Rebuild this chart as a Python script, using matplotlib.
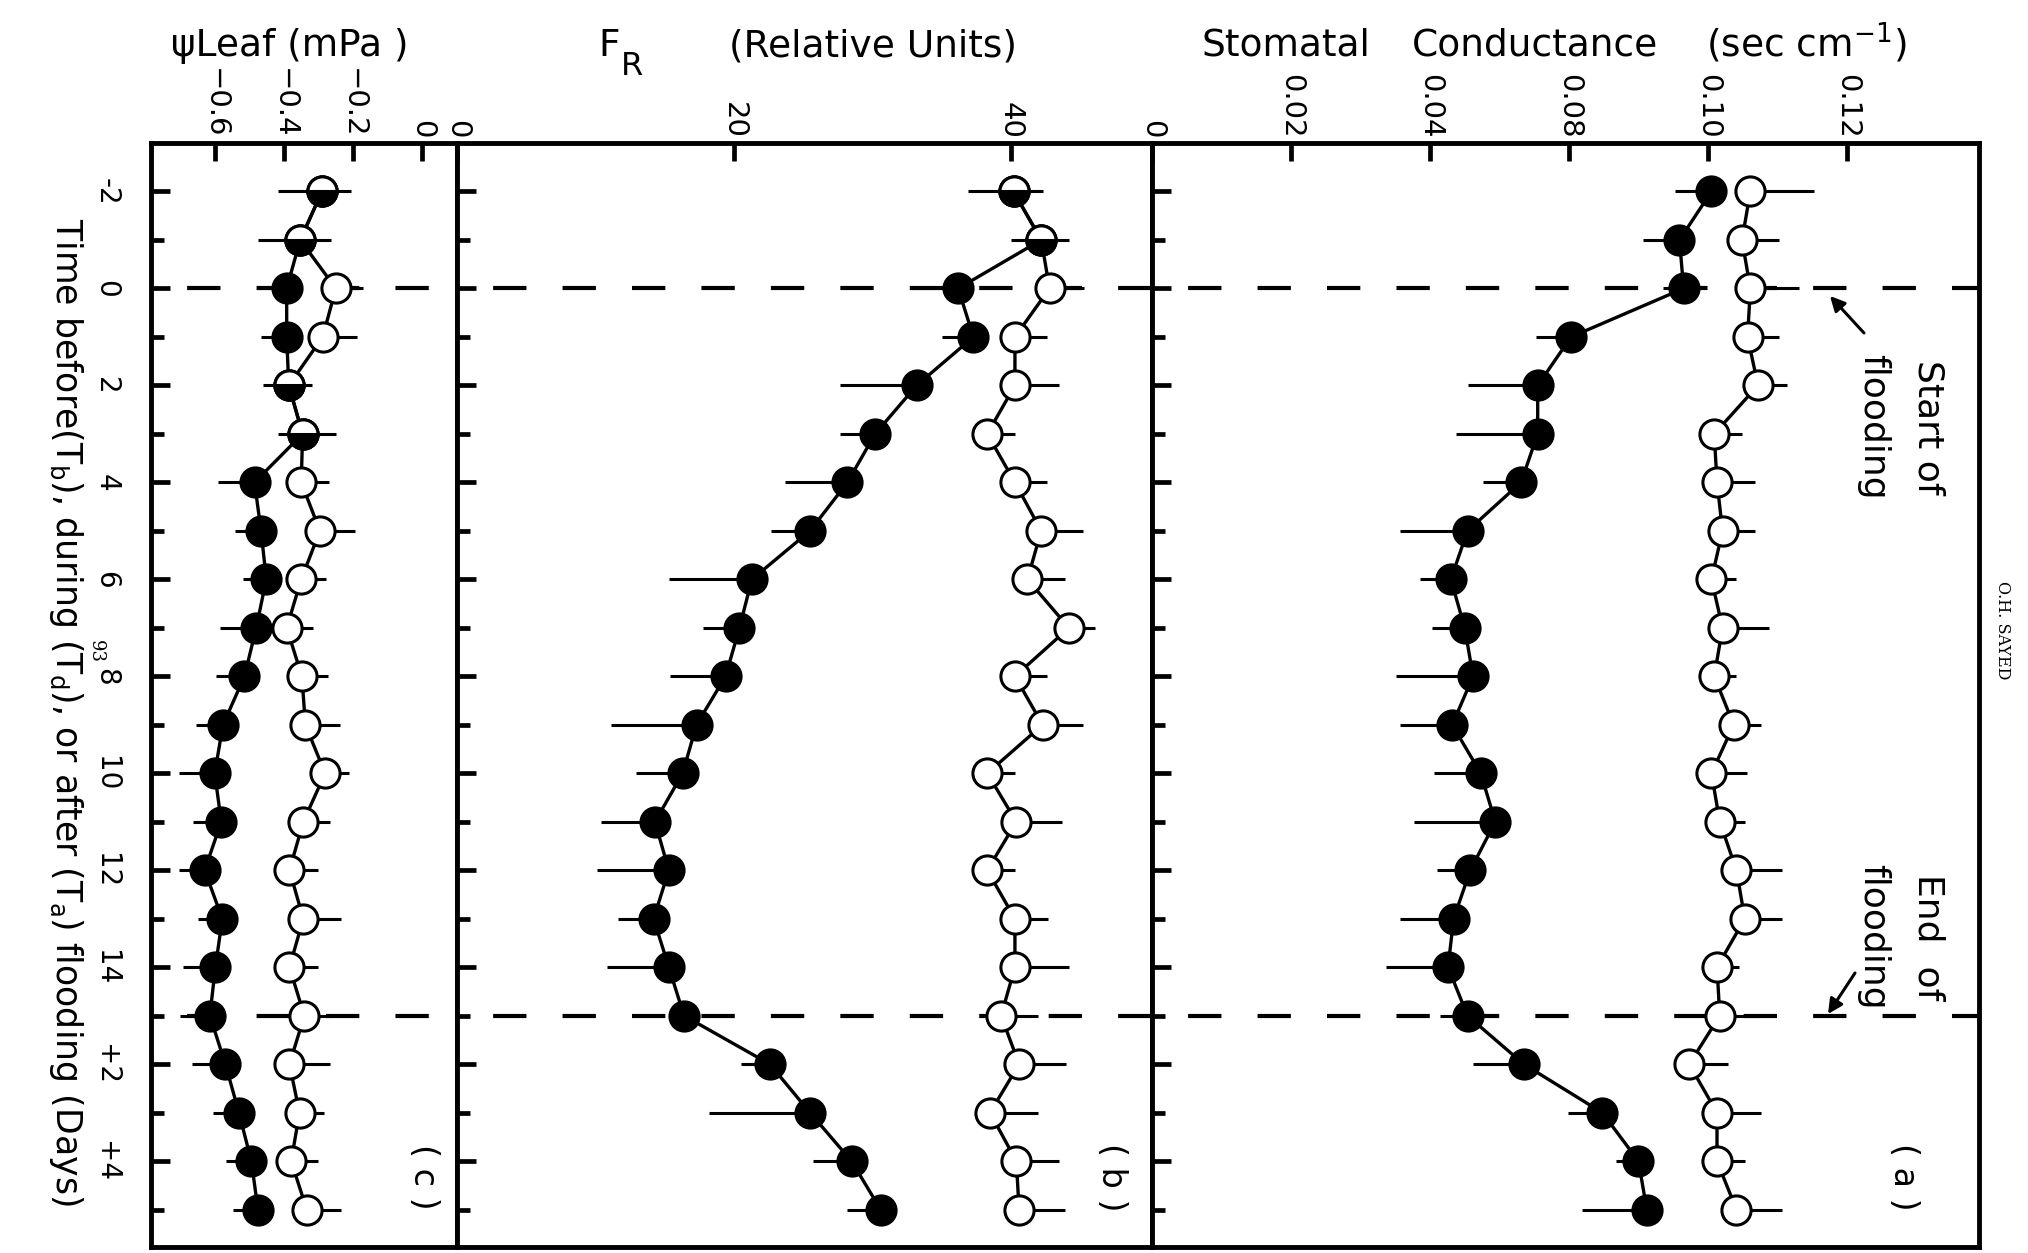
import matplotlib
matplotlib.use("Agg")
import matplotlib.pyplot as plt
import numpy as np

plt.rcParams["font.family"] = ["DejaVu Sans"]
plt.rcParams["mathtext.fontset"] = "dejavusans"
plt.rcParams["lines.scale_dashes"] = False

W, H = 2028, 1253

# ---------------- data ----------------
days = [-2, -1, 0, 1, 2, 3, 4, 5, 6, 7, 8, 9, 10, 11, 12, 13, 14, 15, 16, 17, 18, 19]
day_major = [-2, 0, 2, 4, 6, 8, 10, 12, 14, 16, 18]
day_minor = [-1, 1, 3, 5, 7, 9, 11, 13, 15, 17, 19]
day_labels = ["-2", "0", "2", "4", "6", "8", "10", "12", "14", "+2", "+4"]
flood_start = 0
flood_end = 15

# (a) stomatal conductance
cond_flooded = [0.0805, 0.0759, 0.0765, 0.0603, 0.0555, 0.0555, 0.0531, 0.0454, 0.0430, 0.0450, 0.0462,
                0.0432, 0.0473, 0.0494, 0.0458, 0.0434, 0.0426, 0.0454, 0.0535, 0.0648, 0.0700, 0.0712]
cond_flooded_err = [0.0053, 0.0053, 0.0030, 0.0050, 0.0101, 0.0117, 0.0054, 0.0097, 0.0045, 0.0047, 0.0111,
                    0.0075, 0.0067, 0.0117, 0.0048, 0.0077, 0.0089, 0.0040, 0.0073, 0.0049, 0.0032, 0.0093]
cond_control = [0.0861, 0.0849, 0.0861, 0.0857, 0.0872, 0.0809, 0.0813, 0.0821, 0.0805, 0.0821, 0.0809,
                0.0837, 0.0805, 0.0817, 0.0841, 0.0853, 0.0813, 0.0817, 0.0773, 0.0813, 0.0813, 0.0841]
cond_control_err = [0.0091, 0.0053, 0.0070, 0.0045, 0.0042, 0.0040, 0.0054, 0.0046, 0.0036, 0.0067, 0.0032,
                    0.0040, 0.0051, 0.0036, 0.0065, 0.0053, 0.0032, 0.0060, 0.0056, 0.0064, 0.0040, 0.0065]
cond_ticks = [0, 0.02, 0.04, 0.06, 0.08, 0.10]
cond_ticklabels = ["0", "0.02", "0.04", "0.08", "0.10", "0.12"]

# (b) F_R relative units
fr_flooded = [40.2, 42.2, 36.2, 37.3, 33.2, 30.2, 28.2, 25.5, 21.3, 20.4, 19.4,
              17.3, 16.3, 14.3, 15.3, 14.2, 15.3, 16.4, 22.6, 25.5, 28.5, 30.6]
fr_flooded_err = [3.3, 2.2, 3.4, 2.3, 5.5, 2.5, 4.5, 2.8, 6.0, 2.6, 4.0,
                  6.2, 3.4, 3.9, 5.2, 2.6, 4.5, 0.0, 2.1, 7.3, 2.8, 2.4]
fr_control = [40.2, 42.2, 42.8, 40.3, 40.3, 38.3, 40.3, 42.2, 41.2, 44.2, 40.3,
              42.3, 38.3, 40.4, 38.3, 40.3, 40.3, 39.3, 40.6, 38.5, 40.4, 40.6]
fr_control_err = [2.1, 2.0, 2.5, 2.3, 3.2, 2.0, 2.3, 3.0, 2.7, 1.9, 2.3,
                  2.9, 2.0, 3.3, 2.0, 2.4, 3.9, 2.7, 3.4, 3.5, 3.1, 3.3]
fr_ticks = [0, 20, 40]
fr_ticklabels = ["0", "20", "40"]

# (c) leaf water potential
psi_flooded = [-0.290, -0.353, -0.392, -0.392, -0.386, -0.346, -0.485, -0.466, -0.451, -0.480, -0.514,
               -0.576, -0.600, -0.581, -0.629, -0.578, -0.598, -0.614, -0.569, -0.530, -0.494, -0.475]
psi_flooded_err = [0.128, 0.122, 0.086, 0.074, 0.075, 0.072, 0.106, 0.074, 0.067, 0.106, 0.082,
                   0.077, 0.103, 0.081, 0.074, 0.070, 0.093, 0.086, 0.098, 0.075, 0.072, 0.072]
psi_control = [-0.290, -0.353, -0.250, -0.288, -0.386, -0.346, -0.350, -0.296, -0.350, -0.392, -0.348,
               -0.338, -0.281, -0.344, -0.384, -0.344, -0.384, -0.341, -0.384, -0.355, -0.379, -0.334]
psi_control_err = [0.084, 0.089, 0.079, 0.098, 0.067, 0.096, 0.079, 0.102, 0.072, 0.077, 0.074,
                   0.100, 0.068, 0.077, 0.082, 0.108, 0.082, 0.077, 0.117, 0.072, 0.077, 0.099]
psi_ticks = [-0.6, -0.4, -0.2, 0]
psi_ticklabels = ["\u22120.6", "\u22120.4", "\u22120.2", "0"]

# ---------------- figure ----------------
fig = plt.figure(figsize=(W / 100, H / 100), dpi=100)
TOP, BOT = 143, 1247


def rect(x0, x1):
    return [x0 / W, 1 - BOT / H, (x1 - x0) / W, (BOT - TOP) / H]


ax_c = fig.add_axes(rect(151, 457))
ax_b = fig.add_axes(rect(457, 1152))
ax_a = fig.add_axes(rect(1152, 1979))

MS = 21


def panel(ax, flooded, flooded_err, control, control_err, xlim, xticks, xticklabels, show_days):
    d = np.array(days, float)
    f = np.array(flooded, float)
    c = np.array(control, float)
    fe = np.array(flooded_err, float)
    ce = np.array(control_err, float)
    for t in (flood_start, flood_end):
        ax.axhline(t, color="black", lw=3, ls=(24, (24, 26)), zorder=1)
    ax.errorbar(c, d, xerr=[np.zeros_like(c), ce], fmt="o-", color="black", mfc="white", mec="black",
                ms=MS, mew=2.2, lw=2.4, elinewidth=2.2, capsize=0, zorder=3)
    ax.errorbar(f, d, xerr=[fe, np.zeros_like(f)], fmt="o-", color="black", mfc="black", mec="black",
                ms=MS, mew=2.2, lw=2.4, elinewidth=2.2, capsize=0, zorder=4)
    same = np.isclose(f, c)
    ax.plot(f[same], d[same], ls="none", marker="o", ms=MS, mec="black", mew=2.2, mfc="black",
            markerfacecoloralt="white", fillstyle="bottom", zorder=5)
    ax.set_xlim(*xlim)
    ax.set_ylim(19.77, -3.0)
    ax.xaxis.tick_top()
    ax.set_xticks(xticks)
    ax.set_xticklabels(xticklabels, rotation=-90, fontsize=21)
    ax.tick_params(axis="x", direction="in", length=13, width=3.4, pad=3, top=True, bottom=False,
                   labeltop=True, labelbottom=False)
    ax.set_yticks(day_major)
    ax.set_yticks(day_minor, minor=True)
    ax.tick_params(axis="y", which="major", direction="in", length=14, width=3.4, left=True, right=False)
    ax.tick_params(axis="y", which="minor", direction="in", length=9, width=3.4, left=True, right=False)
    if show_days:
        ax.set_yticklabels(day_labels, rotation=-90, fontsize=20, va="center")
        ax.tick_params(axis="y", which="major", pad=22)
    else:
        ax.set_yticklabels([])
    for s in ax.spines.values():
        s.set_linewidth(3.5)


panel(ax_a, cond_flooded, cond_flooded_err, cond_control, cond_control_err,
      (0, 0.119), cond_ticks, cond_ticklabels, False)
panel(ax_b, fr_flooded, fr_flooded_err, fr_control, fr_control_err,
      (0, 50.2), fr_ticks, fr_ticklabels, False)
panel(ax_c, psi_flooded, psi_flooded_err, psi_control, psi_control_err,
      (-0.784, 0.100), psi_ticks, psi_ticklabels, True)


def ftext(x, y, s, **kw):
    fig.text(x / W, 1 - y / H, s, **kw)


# axis titles (horizontal, on top)
ftext(1286, 56, "Stomatal", ha="center", va="baseline", fontsize=27)
ftext(1535, 56, "Conductance", ha="center", va="baseline", fontsize=27)
ftext(1806, 56, r"(sec cm$^{-1}$)", ha="center", va="baseline", fontsize=27)
ftext(598, 56, "F", ha="left", va="baseline", fontsize=27)
ftext(621, 75, "R", ha="left", va="baseline", fontsize=23)
ftext(873, 56, "(Relative Units)", ha="center", va="baseline", fontsize=27)
ftext(290, 56, "\u03c8Leaf (mPa )", ha="center", va="baseline", fontsize=27)

# time axis title (rotated)
ftext(66, 712, r"Time before(T$_\mathregular{b}$), during (T$_\mathregular{d}$), or after (T$_\mathregular{a}$) flooding (Days)",
      rotation=-90, ha="center", va="center", fontsize=25)
ftext(96, 652, "93", rotation=-90, ha="center", va="center", fontsize=13, family="DejaVu Serif")
ftext(2003, 630, "O.H. SAYED", rotation=-90, ha="center", va="center", fontsize=11.5,
      family="DejaVu Serif")

# annotations
ftext(1929, 427, "Start of", rotation=-90, ha="center", va="center", fontsize=26)
ftext(1873, 427, "flooding", rotation=-90, ha="center", va="center", fontsize=26)
ftext(1929, 937, "End  of", rotation=-90, ha="center", va="center", fontsize=26)
ftext(1873, 937, "flooding", rotation=-90, ha="center", va="center", fontsize=26)

arrow_kw = dict(arrowstyle="-|>", lw=2.2, color="black", mutation_scale=22, shrinkA=0, shrinkB=0)
ax_a.annotate("", xy=(1830, H - 296), xytext=(1864, H - 333), xycoords="figure pixels",
              textcoords="figure pixels", arrowprops=arrow_kw)
ax_a.annotate("", xy=(1828, H - 1014), xytext=(1855, H - 973), xycoords="figure pixels",
              textcoords="figure pixels", arrowprops=arrow_kw)

ftext(1903, 1177, "( a )", rotation=-90, ha="center", va="center", fontsize=24)
ftext(1112, 1177, "( b )", rotation=-90, ha="center", va="center", fontsize=24)
ftext(423, 1177, "( c )", rotation=-90, ha="center", va="center", fontsize=24)

fig.savefig("out.png", dpi=100)
